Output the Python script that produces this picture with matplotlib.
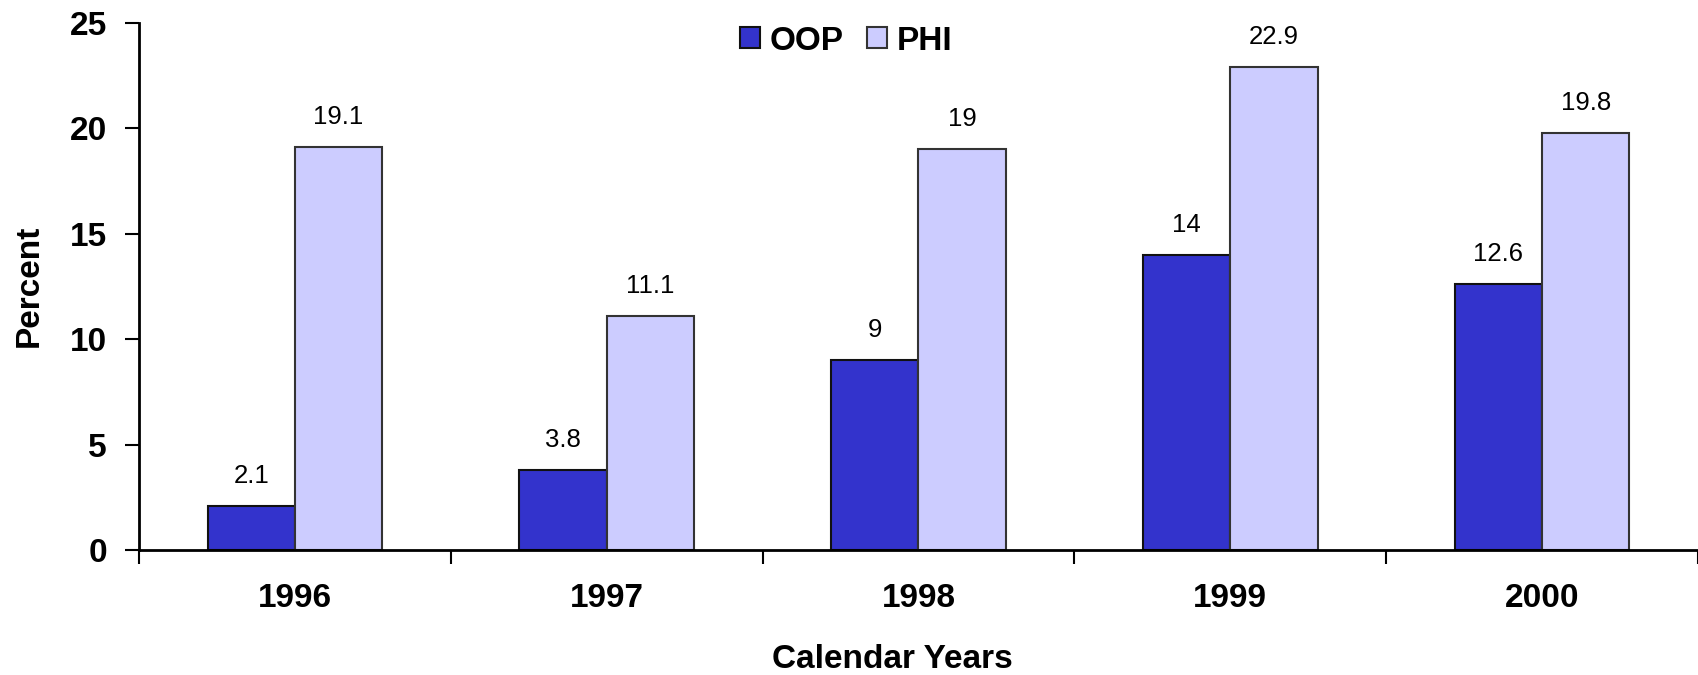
import matplotlib
matplotlib.use("Agg")
import matplotlib.pyplot as plt
import numpy as np

years = ["1996", "1997", "1998", "1999", "2000"]
oop = [2.1, 3.8, 9, 14, 12.6]
phi = [19.1, 11.1, 19, 22.9, 19.8]
oop_labels = ["2.1", "3.8", "9", "14", "12.6"]
phi_labels = ["19.1", "11.1", "19", "22.9", "19.8"]
yticks = [0, 5, 10, 15, 20, 25]

plt.rcParams['font.family'] = ['Liberation Sans', 'DejaVu Sans']

fig = plt.figure(figsize=(16.99, 6.75), dpi=100)
ax = fig.add_axes([139/1699, 1-550/675, (1698-139)/1699, (550-23)/675])

x = np.arange(len(years))
w = 0.28
b1 = ax.bar(x - w/2, oop, w, color="#3333CC", edgecolor="#111111", linewidth=1.5, label="OOP")
b2 = ax.bar(x + w/2, phi, w, color="#CCCCFF", edgecolor="#333333", linewidth=1.5, label="PHI")

for xi, v, t in zip(x - w/2, oop, oop_labels):
    ax.annotate(t, (xi, v), xytext=(0, 13), textcoords="offset points",
                ha="center", va="bottom", fontsize=18.5)
for xi, v, t in zip(x + w/2, phi, phi_labels):
    ax.annotate(t, (xi, v), xytext=(0, 13), textcoords="offset points",
                ha="center", va="bottom", fontsize=18.5)

ax.set_xlim(-0.5, len(years) - 0.5)
ax.set_ylim(0, 25)
ax.set_yticks(yticks)
ax.set_yticklabels([str(t) for t in yticks], fontsize=24, fontweight="bold")
ax.set_xticks(x)
ax.set_xticklabels(years, fontsize=24, fontweight="bold")
ax.tick_params(axis="x", length=0, pad=24)
ax.set_xticks(np.arange(-0.5, len(years)), minor=True)
ax.tick_params(axis="x", which="minor", length=10, width=1.5, direction="out")
ax.tick_params(axis="y", length=10, width=1.5, direction="out", pad=13)

for s in ["top", "right"]:
    ax.spines[s].set_visible(False)
for s in ["left", "bottom"]:
    ax.spines[s].set_linewidth(2)
    ax.spines[s].set_color("black")

fig.text(29/1699, 1-286/675, "Percent", rotation=90, ha="center", va="center",
         fontsize=24, fontweight="bold")
fig.text(892/1699, 1-660/675, "Calendar Years", ha="center", va="center",
         fontsize=24, fontweight="bold")

leg = fig.legend(handles=[b1, b2], labels=["OOP", "PHI"], loc="center",
                 bbox_to_anchor=(846/1699, 1-41/675), ncol=2, frameon=False,
                 prop={"weight": "bold", "size": 24}, handlelength=0.6,
                 handleheight=0.6, handletextpad=0.3, columnspacing=0.7)

fig.savefig("out.png", dpi=100, facecolor="white")
